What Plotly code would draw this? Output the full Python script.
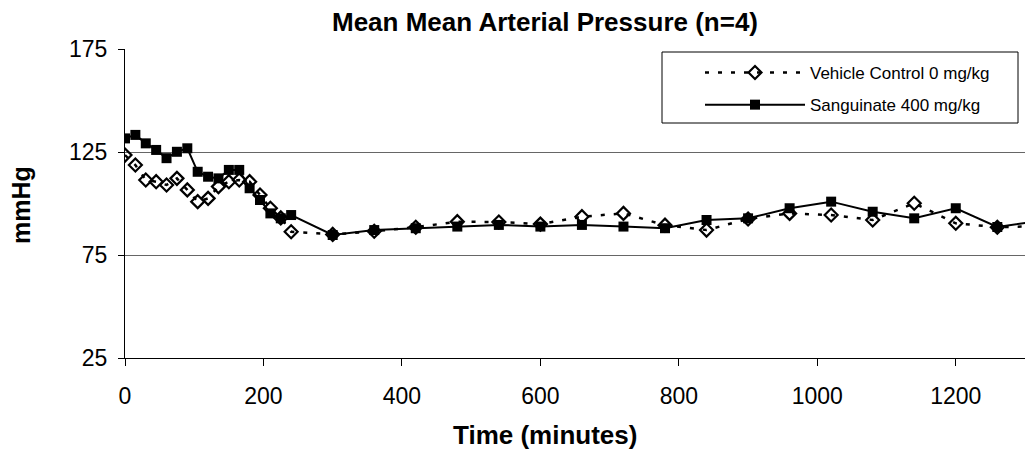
import plotly.graph_objects as go

times = [0, 15, 30, 45, 60, 75, 90, 105, 120, 135, 150, 165, 180, 195, 210, 225, 240,
         300, 360, 420, 480, 540, 600, 660, 720, 780, 840, 900, 960, 1020, 1080, 1140,
         1200, 1260, 1320]
vehicle = [123.5, 118.7, 111.4, 110.6, 109.0, 112.2, 106.6, 100.9, 102.5, 108.2, 110.6,
           111.4, 110.6, 104.1, 97.7, 93.0, 86.3, 85.0, 86.5, 88.5, 91.2, 91.0, 90.0,
           93.6, 95.2, 89.5, 87.1, 92.5, 95.2, 94.4, 92.0, 100.1, 90.4, 88.5, 89.0]
sanguinate = [131.6, 133.3, 129.2, 126.0, 122.0, 125.1, 126.8, 115.4, 113.0, 112.2, 116.3,
              116.3, 107.4, 101.7, 95.2, 92.8, 94.4, 84.7, 87.1, 88.0, 88.8, 89.6, 88.8,
              89.6, 88.8, 88.0, 92.0, 92.8, 97.7, 100.9, 96.0, 92.8, 97.7, 88.6, 91.5]

y_ticks = [25, 75, 125, 175]
x_ticks = [0, 200, 400, 600, 800, 1000, 1200]

font_fam = "Liberation Sans, Arial, sans-serif"

# pixel geometry helpers (plot area: x 125..1025, y 49..358)
def px_x(p):
    return (p - 125) / 900

def px_y(p):
    return (358 - p) / 309

fig = go.Figure()
fig.add_trace(go.Scatter(
    x=times, y=vehicle, name="Vehicle Control 0 mg/kg", mode="lines+markers",
    legendgroup="a",
    line=dict(color="black", width=2.5, dash="4px,9px"),
    marker=dict(symbol="diamond-open", size=10, color="black", line=dict(width=2.2, color="black")),
))
fig.add_trace(go.Scatter(
    x=times, y=sanguinate, name="Sanguinate 400 mg/kg", mode="lines+markers",
    legendgroup="b",
    line=dict(color="black", width=2),
    marker=dict(symbol="square", size=10, color="black"),
))

fig.update_layout(
    width=1025, height=469,
    margin=dict(l=125, r=0, t=49, b=111),
    paper_bgcolor="white", plot_bgcolor="white",
    font=dict(family=font_fam, color="black", size=18),
    showlegend=True,
    legend=dict(
        x=px_x(700), y=px_y(55), xanchor="left", yanchor="top",
        bgcolor="rgba(0,0,0,0)", borderwidth=0,
        font=dict(family=font_fam, size=17, color="black"),
        itemwidth=100, traceorder="grouped", tracegroupgap=7,
    ),
    shapes=[
        dict(type="rect", xref="paper", yref="paper",
             x0=px_x(662), x1=px_x(1018), y0=px_y(123), y1=px_y(52),
             line=dict(color="black", width=1), fillcolor="white", layer="below"),
    ],
    annotations=[
        dict(text="<b>Mean Mean Arterial Pressure (n=4)</b>", xref="paper", yref="paper",
             x=px_x(545), y=1, yshift=27, xanchor="center", yanchor="middle",
             showarrow=False, font=dict(family=font_fam, size=26)),
        dict(text="<b>Time (minutes)</b>", xref="paper", yref="paper",
             x=px_x(545), y=0, yshift=-77, xanchor="center", yanchor="middle",
             showarrow=False, font=dict(family=font_fam, size=26)),
        dict(text="<b>mmHg</b>", xref="paper", yref="paper", textangle=-90,
             x=0, xshift=-104, y=px_y(205), xanchor="center", yanchor="middle",
             showarrow=False, font=dict(family=font_fam, size=25)),
    ],
)

fig.update_xaxes(
    range=[0, 1300], tickvals=x_ticks, ticktext=[str(v) for v in x_ticks],
    showgrid=False, zeroline=False, showline=True, linecolor="black", linewidth=1,
    ticks="outside", ticklen=7, tickcolor="black", tickfont=dict(size=23), ticklabelstandoff=10,
)
fig.update_yaxes(
    range=[25, 175], tickvals=y_ticks, ticktext=[str(v) for v in y_ticks],
    showgrid=True, gridcolor="#666666", gridwidth=1, zeroline=False,
    showline=True, linecolor="black", linewidth=1,
    ticks="outside", ticklen=6, tickcolor="black", tickfont=dict(size=23), ticklabelstandoff=6,
)

fig.write_html("out.html")
